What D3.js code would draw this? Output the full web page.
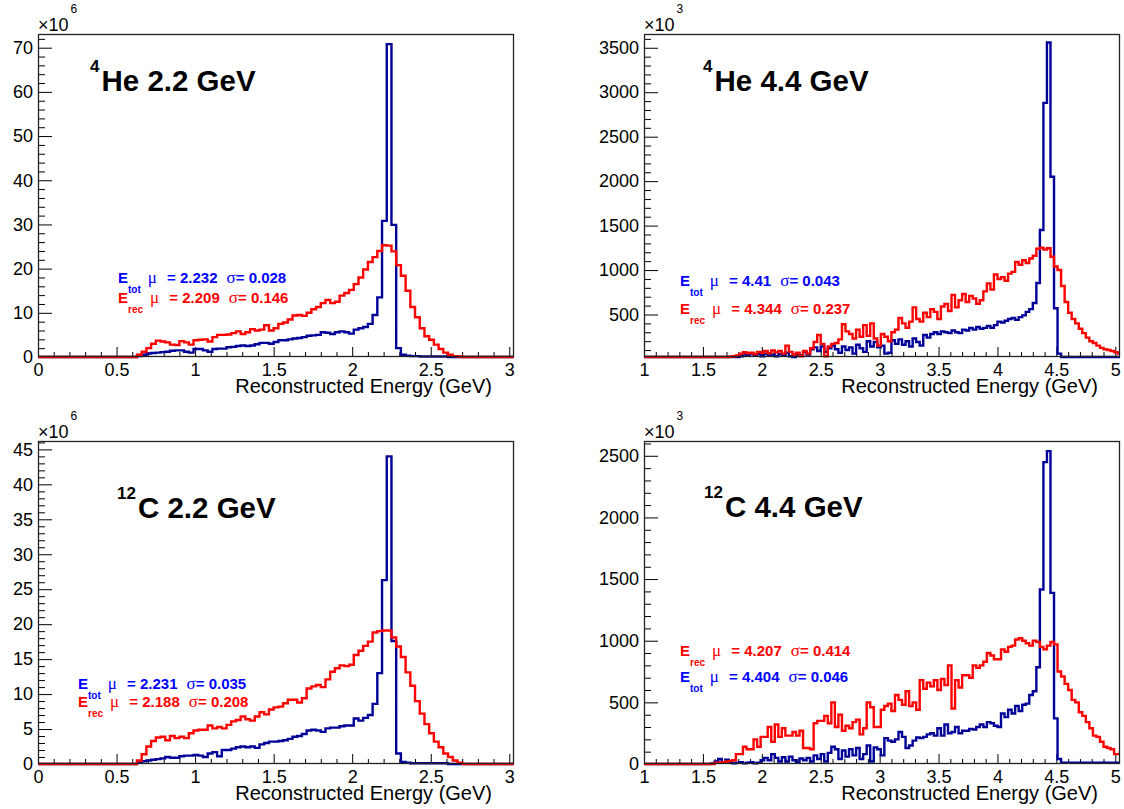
<!DOCTYPE html>
<html>
<head>
<meta charset="utf-8">
<script src="https://cdn.jsdelivr.net/npm/d3@7"></script>
<style>
	body { margin: 0; background: #fff; }
	svg { display: block; font-family: "Liberation Sans", Arial, Helvetica, sans-serif; }
</style>
</head>
<body>
<svg width="1124" height="809"></svg>
<script>
// bin width (GeV) of every histogram
var binWidth = 0.03;

// 4He 2.2 GeV, x10^6, bins start at 0 GeV
var he22Tot = [
	0,0,0,0,0,0,0,0,0,0,
	0,0,0,0,0,0,0,0,0,0,
	0,0.2,0.5,0.8,0.9,1.0,1.1,1.2,1.4,1.5,
	1.5,1.2,1.0,1.8,1.8,1.5,1.2,1.8,1.9,1.9,
	2.2,2.3,2.5,2.6,2.5,2.6,2.9,3.2,3.2,3.0,
	3.4,3.8,3.8,4.0,4.2,4.3,4.5,4.8,4.9,5.0,
	5.6,5.5,5.2,5.6,5.8,5.6,5.3,6.2,6.5,6.8,
	7.5,9.5,13.5,30.8,70.8,29.9,2.0,0.5,0.3,0.2,
	0.2,0.1,0.1,0.1,0.1,0.1,0.1,0,0,0,
	0,0,0,0,0,0,0,0,0,0,0];
var he22Rec = [
	0,0,0,0,0,0,0,0,0,0,
	0,0,0,0,0,0,0,0,0,0,
	0,0.5,1.2,2.0,3.0,3.7,3.5,3.3,2.8,2.7,
	3.6,3.3,2.8,3.8,3.9,4.0,3.5,4.5,5.0,5.0,
	5.1,5.4,5.8,5.2,5.6,6.3,6.0,6.2,7.2,6.0,
	6.5,7.5,7.8,8.5,9.4,9.5,9.3,10.0,10.8,11.3,
	12.2,12.9,12.2,12.5,13.9,14.5,15.2,16.5,18.0,19.8,
	21.5,22.6,24.0,25.3,25.2,23.9,20.8,18.4,15.0,11.3,
	9.0,6.5,4.7,3.9,2.8,1.8,1.0,0.5,0.2,0.1,
	0,0,0,0,0,0,0,0,0,0,0];

// 12C 2.2 GeV, x10^6, bins start at 0 GeV
var c22Tot = [
	0,0,0,0,0,0,0,0,0,0,
	0,0,0,0,0,0,0,0,0,0,
	0,0.2,0.4,0.5,0.6,0.7,0.8,1.0,0.9,0.9,
	1.1,1.2,1.2,1.3,1.2,1.0,1.5,1.7,1.1,2.0,
	2.0,2.2,2.4,2.5,2.4,2.5,2.3,2.8,3.0,3.2,
	3.2,3.3,3.4,3.6,3.9,4.0,4.3,4.8,4.9,4.8,
	4.6,5.1,5.2,5.2,5.4,5.5,5.5,6.5,6.2,6.6,
	7.0,8.6,13.0,26.3,44.0,17.6,1.5,0.3,0.2,0.1,
	0.1,0.1,0.1,0.1,0.1,0.1,0.1,0,0,0,
	0,0,0,0,0,0,0,0,0,0,0];
var c22Rec = [
	0,0,0,0,0,0,0,0,0,0,
	0,0,0,0,0,0,0,0,0,0,
	0,0.5,1.4,2.5,3.3,3.8,3.9,3.4,4.0,3.7,
	3.9,3.7,4.4,4.8,4.9,4.9,5.5,5.1,5.3,5.1,
	5.6,6.1,6.3,6.8,6.4,6.2,6.8,7.4,7.1,7.8,
	8.1,8.2,8.7,9.2,9.2,8.8,9.4,10.8,11.1,11.3,
	11.0,12.1,13.2,13.7,14.1,14.0,14.2,15.6,16.2,16.9,
	17.5,18.8,19.0,19.1,19.1,18.1,16.8,15.3,13.1,11.2,
	9.0,7.2,5.7,4.4,3.2,2.4,1.5,1.0,0.5,0.2,
	0,0,0,0,0,0,0,0,0,0,0];

// 4He 4.4 GeV, x10^3, bins start at 1 GeV
var he44Tot = [
	0,0,0,0,0,0,0,0,0,0,
	0,0,0,0,0,0,0,0,0,0,
	0,0,0,0,0,0,0,30,50,40,
	60,45,55,30,60,40,50,30,55,40,
	70,30,20,60,40,80,50,110,130,90,
	140,80,120,150,110,70,140,100,130,60,
	160,120,80,200,140,190,130,150,60,70,
	210,170,220,160,200,140,230,190,150,270,
	240,280,300,280,310,300,290,320,300,290,
	330,320,350,330,360,340,350,370,350,380,
	420,410,430,450,460,440,470,490,530,560,
	630,855,1450,2880,3560,2050,570,60,20,10,
	10,10,10,10,10,10,10,10,10,10,
	10,10,10,10,10];
var he44Rec = [
	5,5,5,5,5,5,5,5,5,5,
	5,5,5,5,5,5,5,5,5,5,
	5,5,15,20,25,30,40,60,75,65,
	70,55,80,70,90,65,95,75,90,60,
	150,80,50,70,30,90,60,120,190,270,
	170,30,140,170,180,220,390,310,280,230,
	330,250,380,260,400,230,150,280,250,200,
	300,330,460,400,350,420,580,450,420,520,
	470,560,530,450,590,620,540,720,580,660,
	730,640,710,680,620,660,760,850,780,950,
	900,920,880,960,980,1090,1060,1110,1080,1130,
	1160,1240,1250,1230,1245,1150,1040,1000,820,640,
	520,450,400,340,290,240,200,180,150,125,
	110,100,90,75,60];

// 12C 4.4 GeV, x10^3, bins start at 1 GeV
var c44Tot = [
	0,0,0,0,0,0,0,0,0,0,
	0,0,0,0,0,0,0,0,0,5,
	20,40,15,35,10,5,10,15,5,10,
	15,5,10,30,50,30,80,50,20,55,
	20,60,30,10,45,30,50,20,70,40,
	80,20,90,140,120,40,110,60,120,70,
	130,40,80,150,20,135,120,70,210,190,
	180,200,260,220,130,150,190,215,210,220,
	240,250,230,290,230,320,250,260,300,250,
	270,270,285,280,300,320,300,340,330,310,
	300,410,380,440,410,470,430,480,490,560,
	590,785,1415,2449,2538,1388,370,40,10,10,
	10,10,10,10,10,10,10,10,10,10,
	10,10,10,10,10];
var c44Rec = [
	0,0,0,0,0,0,0,0,0,0,
	0,0,0,0,0,0,0,0,0,0,
	10,10,15,20,25,30,80,80,140,120,
	120,200,140,220,220,300,180,320,220,290,
	230,230,260,230,270,130,130,120,330,350,
	350,390,330,500,300,400,270,310,290,340,
	360,240,290,500,460,300,300,440,470,490,
	430,560,520,480,590,470,500,440,680,610,
	660,630,680,600,690,640,800,450,680,620,
	720,720,700,800,780,800,830,900,880,850,
	850,930,910,950,960,1010,1020,1000,980,960,
	1000,990,950,930,960,990,970,750,710,650,
	600,520,500,420,390,340,290,230,220,180,
	140,130,120,80,80];

// labels
var isotopes = ["4", "4", "12", "12"];
var titles = ["He 2.2 GeV", "He 4.4 GeV", "C 2.2 GeV", "C 4.4 GeV"];
var exponents = ["6", "3", "6", "3"];
var muTot = ["2.232", "4.41", "2.231", "4.404"];
var sigmaTot = ["0.028", "0.043", "0.035", "0.046"];
var muRec = ["2.209", "4.344", "2.188", "4.207"];
var sigmaRec = ["0.146", "0.237", "0.208", "0.414"];
var xTitle = "Reconstructed Energy (GeV)";

var blueText = "#0000ff", blueLine = "#000099", redLine = "#ff0000";

var panels = [
	{tot: he22Tot, rec: he22Rec, binLo: 0, xLo: 0, xHi: 3.03, yLo: 0, yHi: 73.1, yMajor: 10, yMinor: 2,
		left: 38, right: 514, top: 34, bottom: 357, titleX: 90, titleY: 91, legX: 118, legY: [283, 302.5], recFirst: false},
	{tot: he44Tot, rec: he44Rec, binLo: 1, xLo: 1, xHi: 5.04, yLo: 22, yHi: 3655, yMajor: 500, yMinor: 100,
		left: 644, right: 1120, top: 34, bottom: 357, titleX: 703, titleY: 91, legX: 680, legY: [286, 314], recFirst: false},
	{tot: c22Tot, rec: c22Rec, binLo: 0, xLo: 0, xHi: 3.03, yLo: 0, yHi: 46.2, yMajor: 5, yMinor: 1,
		left: 38, right: 514, top: 441, bottom: 764, titleX: 117, titleY: 518, legX: 78, legY: [689, 706.5], recFirst: false},
	{tot: c44Tot, rec: c44Rec, binLo: 1, xLo: 1, xHi: 5.04, yLo: 0, yHi: 2620, yMajor: 500, yMinor: 100,
		left: 644, right: 1120, top: 441, bottom: 764, titleX: 704, titleY: 517, legX: 680, legY: [656, 682], recFirst: true}
];

var svg = d3.select("svg");
svg.append("rect").attr("width", 1124).attr("height", 809).attr("fill", "#fff");

function onGrid(v, step) {
	var r = v / step;
	return Math.abs(r - Math.round(r)) < 1e-6;
}

function histPanel(p, i) {
	var g = svg.append("g").attr("class", "panel" + i);
	var x = d3.scaleLinear().domain([p.xLo, p.xHi]).range([p.left, p.right]);
	var y = d3.scaleLinear().domain([p.yLo, p.yHi]).range([p.bottom, p.top]);

	g.append("clipPath").attr("id", "clip" + i).append("rect")
		.attr("x", p.left).attr("y", p.top)
		.attr("width", p.right - p.left).attr("height", p.bottom - p.top + 3);

	// ticks, drawn inward like ROOT
	var yMaj = d3.range(0, p.yHi, p.yMajor).filter(function(v) { return v >= p.yLo; });
	var yMin = d3.range(0, p.yHi, p.yMinor).filter(function(v) { return v >= p.yLo && !onGrid(v, p.yMajor); });
	var xMaj = d3.range(p.xLo, p.xHi + 1e-9, 0.5).filter(function(v) { return v <= p.xHi - 0.02; });
	var xMin = d3.range(p.xLo, p.xHi, 0.1).filter(function(v) { return !onGrid(v - p.xLo, 0.5); });

	g.append("g").attr("transform", "translate(" + p.left + ",0)")
		.call(d3.axisLeft(y).tickValues(yMaj).tickSize(-14).tickPadding(5).tickFormat(d3.format("d")));
	g.append("g").attr("transform", "translate(" + p.left + ",0)")
		.call(d3.axisLeft(y).tickValues(yMin).tickSize(-7).tickFormat(""));
	g.append("g").attr("transform", "translate(0," + p.bottom + ")")
		.call(d3.axisBottom(x).tickValues(xMaj).tickSize(-10).tickPadding(6).tickFormat(d3.format("~g")));
	g.append("g").attr("transform", "translate(0," + p.bottom + ")")
		.call(d3.axisBottom(x).tickValues(xMin).tickSize(-5).tickFormat(""));
	g.selectAll(".domain").remove();
	g.selectAll(".tick line").attr("stroke", "#000");
	g.selectAll(".tick text").attr("font-size", 18).attr("font-family", "Liberation Sans, Arial, sans-serif").attr("fill", "#000");

	// histograms: blue total, red reconstructed on top
	var line = d3.line()
		.x(function(d) { return x(d[0]); })
		.y(function(d) { return y(Math.max(p.yLo, Math.min(p.yHi, d[1]))); })
		.curve(d3.curveStepAfter);
	function steps(vals) {
		var pts = vals.map(function(v, k) { return [p.binLo + k * binWidth, v]; });
		pts.push([p.binLo + vals.length * binWidth, vals[vals.length - 1]]);
		return pts;
	}
	var hg = g.append("g").attr("clip-path", "url(#clip" + i + ")");
	hg.append("path").attr("d", line(steps(p.tot)))
		.attr("fill", "none").attr("stroke", blueLine).attr("stroke-width", 2.4);
	hg.append("path").attr("d", line(steps(p.rec)))
		.attr("fill", "none").attr("stroke", redLine).attr("stroke-width", 2.4);

	// frame
	g.append("rect").attr("x", p.left + 0.5).attr("y", p.top + 0.5)
		.attr("width", p.right - p.left - 1).attr("height", p.bottom - p.top - 1)
		.attr("fill", "none").attr("stroke", "#222").attr("stroke-width", 1.3);

	// x10^n multiplier
	var m = g.append("text").attr("x", p.left).attr("y", p.top - 3.5).attr("font-size", 18);
	m.append("tspan").text("\u00d710");
	m.append("tspan").attr("font-size", 12).attr("dy", -18).attr("dx", 2).text(exponents[i]);

	// axis title
	g.append("text").attr("x", p.right - 22).attr("y", p.bottom + 35.5)
		.attr("text-anchor", "end").attr("font-size", 20).text(xTitle);

	// panel title
	var t = g.append("text").attr("x", p.titleX).attr("y", p.titleY).attr("font-weight", "bold");
	t.append("tspan").attr("font-size", 17).attr("dy", -19).text(isotopes[i]);
	t.append("tspan").attr("font-size", 29.5).attr("dy", 19).attr("dx", 2).text(titles[i]);

	// fit results
	var rows = [["tot", muTot[i], sigmaTot[i], blueText], ["rec", muRec[i], sigmaRec[i], redLine]];
	if(p.recFirst) { rows.reverse(); }
	rows.forEach(function(r, k) {
		var lt = g.append("text").attr("x", p.legX).attr("y", p.legY[k])
			.attr("fill", r[3]).attr("font-weight", "bold").attr("font-size", 15);
		lt.append("tspan").text("E");
		lt.append("tspan").attr("font-size", 10).attr("dy", 10).text(r[0]);
		lt.append("tspan").attr("dy", -10).attr("dx", 7).attr("font-family", "Liberation Serif, serif")
			.attr("font-weight", "normal").attr("font-size", 17).text("\u03bc");
		lt.append("tspan").attr("dx", 6).text(" = " + r[1]);
		lt.append("tspan").attr("dx", 9).attr("font-family", "Liberation Serif, serif")
			.attr("font-weight", "normal").attr("font-size", 17).text("\u03c3");
		lt.append("tspan").text("= " + r[2]);
	});
}

panels.forEach(histPanel);
</script>
</body>
</html>
